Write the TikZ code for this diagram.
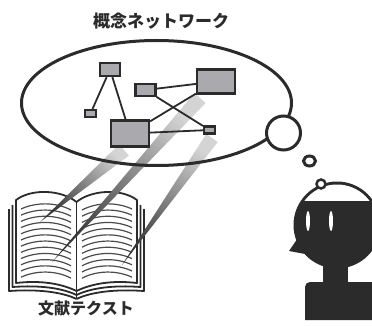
\documentclass[tikz,border=0pt]{standalone}
\usepackage{fontspec}
\newfontfamily\jpfont{Noto Sans CJK JP}
\usetikzlibrary{shapes.geometric, calc}

\definecolor{ink}{HTML}{2B2B2B}
\definecolor{boxgray}{HTML}{AAAAAE}
\definecolor{beamdark}{HTML}{353535}
\definecolor{beammid}{HTML}{767676}
\definecolor{beamlight}{HTML}{D4D4D4}

\begin{document}
\begin{tikzpicture}[
    x=1pt, y=-1pt,
    concept/.style={
        rectangle,
        draw=ink,
        fill=boxgray,
        line width=2.2pt,
        inner sep=0pt
    },
    link/.style={draw=ink, line width=1.8pt},
    cloud/.style={ellipse, draw=ink, line width=3pt, inner sep=0pt},
    bubble/.style={draw=ink, fill=white, line width=3pt, inner sep=0pt},
    bookline/.style={draw=ink, line width=1.8pt, line join=round},
    pageline/.style={draw=ink!85, line width=1.2pt},
    beam/.style={bottom color=beamdark, middle color=beammid, top color=beamlight},
    caption/.style={text=ink, inner sep=0pt}
]
\clip (0,0) rectangle (372,326);

% open book, left half drawn twice (mirrored for the right page)
\foreach \s/\o in {1/0, -1/153} {
    \begin{scope}[xshift=\o pt, xscale=\s]
        \draw[bookline] (9,209) -- (9,291) .. controls (38,289) and (62,292) .. (76.5,299);
        \draw[bookline] (12.5,205) -- (12.5,287) .. controls (40,285) and (62,288) .. (76.5,295);
        \draw[bookline, fill=white] (76.5,202) .. controls (62,190) and (32,188) .. (16,200)
            -- (16,283) .. controls (42,280) and (62,284) .. (76.5,291);
        \foreach \k in {0,...,11}
            \draw[pageline, yshift=-6.2*\k pt] (21,209) .. controls (36,202) and (56,202) .. (71,210);
    \end{scope}
}
\draw[bookline] (76.5,202) -- (76.5,299);

% beams from the text up into the network
\coordinate (tipA) at (40,222);   \coordinate (topA) at (124,150);
\coordinate (tipB) at (52,262);   \coordinate (topB) at (200,98);
\coordinate (tipC) at (122,265);  \coordinate (topC) at (212,138);
\shade[beam, shading angle=-49] (tipA) -- ($(topA)!7.5pt!90:(tipA)$) -- ($(topA)!7.5pt!-90:(tipA)$) -- cycle;
\shade[beam, shading angle=-42] (tipB) -- ($(topB)!7.5pt!90:(tipB)$) -- ($(topB)!7.5pt!-90:(tipB)$) -- cycle;
\shade[beam, shading angle=-35] (tipC) -- ($(topC)!7pt!90:(tipC)$) -- ($(topC)!7pt!-90:(tipC)$) -- cycle;

\node[cloud, minimum width=270pt, minimum height=125pt] (cloud) at (156.5,103) {};

% concept network
\node[concept, minimum width=20pt, minimum height=13pt] (upper) at (110,69.5) {};
\node[concept, minimum width=11pt, minimum height=7pt] (small) at (90.5,113.5) {};
\node[concept, minimum width=20pt, minimum height=12pt] (mid) at (145.5,90) {};
\node[concept, minimum width=38pt, minimum height=24pt] (large) at (216,81.5) {};
\node[concept, minimum width=38pt, minimum height=26pt] (lower) at (130,133.5) {};
\node[concept, minimum width=11pt, minimum height=7pt] (tiny) at (209.5,130) {};

\draw[link] (upper) -- (small);
\draw[link] (upper) -- (lower);
\draw[link] (mid) -- (large);
\draw[link] (mid) -- (tiny);
\draw[link] (lower) -- (large);
\draw[link] (lower) -- (tiny);

% thought bubbles
\node[bubble, circle, minimum size=34pt] (bubbleL) at (283.5,133) {};
\node[bubble, ellipse, minimum width=12pt, minimum height=10pt] (bubbleM) at (309.5,161) {};

% person
\fill[ink] (337,225) circle[radius=43.5];
\begin{scope}
    \clip (337,225) circle[radius=40.5];
    \fill[white] (290,170) rectangle (390,200.5);
\end{scope}
\fill[white] (308,221) ellipse[x radius=2, y radius=10];
\fill[white] (331,221) ellipse[x radius=2, y radius=10];
\fill[ink] (302,232) -- (289,251) -- (316,256) -- cycle;
\fill[ink] (323,255) rectangle (348,286);
\fill[ink] (305,320) -- (305,287) arc[start angle=180, end angle=270, radius=5]
    -- (380,282) -- (380,320) -- cycle;
\node[bubble, circle, line width=2.5pt, minimum size=9pt] (bubbleS) at (321,184) {};

\node[caption, font=\jpfont\bfseries\fontsize{17}{20}\selectfont] (title) at (161,21) {概念ネットワーク};
\node[caption, font=\jpfont\bfseries\fontsize{16}{19}\selectfont] (source) at (86,308) {文献テクスト};
\end{tikzpicture}
\end{document}
